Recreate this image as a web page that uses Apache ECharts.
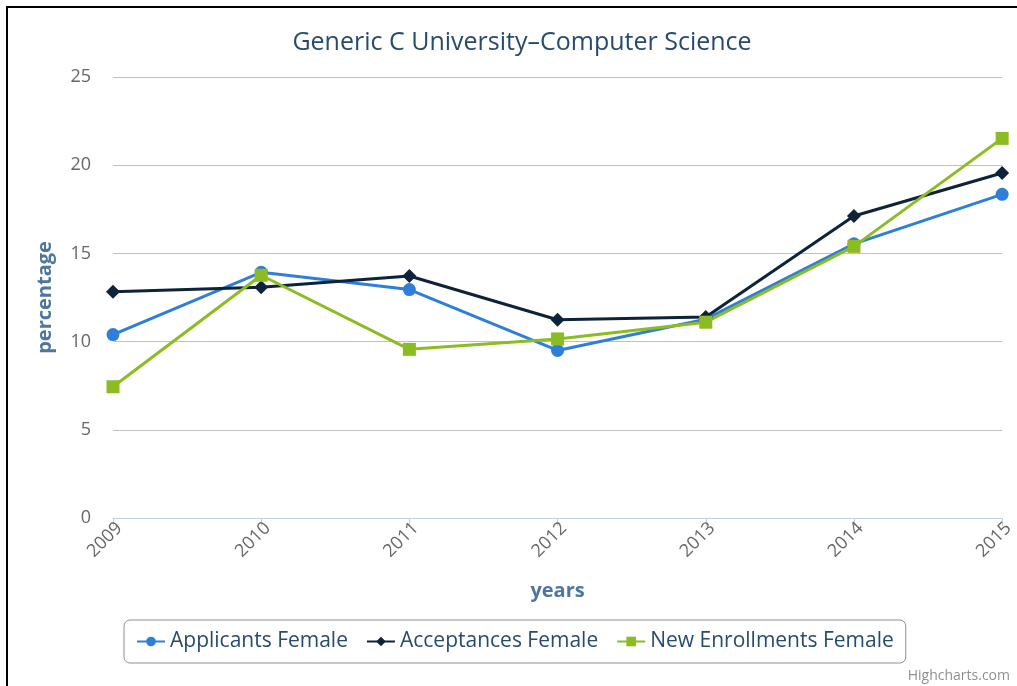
<!DOCTYPE html>
<html>
<head>
<meta charset="utf-8">
<script src="https://cdn.jsdelivr.net/npm/echarts@6/dist/echarts.min.js"></script>
<style>
html,body{margin:0;padding:0;background:#fff;}
#chart{width:1017px;height:686px;}
</style>
</head>
<body>
<div id="chart"></div>
<script>
const years = ['2009','2010','2011','2012','2013','2014','2015'];
const applicantsFemale = [10.4, 13.93, 12.95, 9.5, 11.27, 15.54, 18.35];
const acceptancesFemale = [12.83, 13.08, 13.72, 11.24, 11.4, 17.12, 19.56];
const newEnrollmentsFemale = [7.44, 13.76, 9.56, 10.15, 11.1, 15.4, 21.52];
const yTicks = [0, 5, 10, 15, 20, 25];

const FONT = '"Open Sans", "DejaVu Sans", sans-serif';
const chart = echarts.init(document.getElementById('chart'), null, {renderer: 'canvas'});
chart.setOption({
  animation: false,
  backgroundColor: '#fff',
  title: {
    text: 'Generic C University\u2013Computer Science',
    left: 517, top: 25, textAlign: 'center',
    textStyle: {fontFamily: FONT, fontSize: 25, fontWeight: 'normal', color: '#274b6d'}
  },
  grid: {left: 113, right: 14, top: 77, bottom: 168, containLabel: false},
  xAxis: {
    type: 'category', data: years, boundaryGap: false,
    name: 'years', nameLocation: 'middle', nameGap: 63,
    nameTextStyle: {fontFamily: FONT, fontSize: 20, fontWeight: 'bold', color: '#4d759e'},
    axisLine: {show: true, lineStyle: {color: '#C0D0E0', width: 1}},
    axisTick: {show: true, length: 8, lineStyle: {color: '#C0D0E0'}},
    axisLabel: {rotate: 45, margin: 1, verticalAlign: 'top', fontFamily: FONT, fontSize: 18, color: '#666'},
    splitLine: {show: false}
  },
  yAxis: {
    type: 'value', min: yTicks[0], max: yTicks[yTicks.length-1], interval: 5,
    name: 'percentage', nameLocation: 'middle', nameGap: 58,
    nameTextStyle: {fontFamily: FONT, fontSize: 20, fontWeight: 'bold', color: '#4d759e'},
    axisLine: {show: false}, axisTick: {show: false},
    axisLabel: {margin: 22, fontFamily: FONT, fontSize: 18, color: '#666'},
    splitLine: {show: true, lineStyle: {color: '#C0C0C0', width: 1}}
  },
  legend: {
    left: 124, top: 620,
    padding: [11, 12, 11, 12],
    borderColor: '#909090', borderWidth: 1, borderRadius: 6,
    itemWidth: 28, itemHeight: 12, itemGap: 18,
    textStyle: {fontFamily: FONT, fontSize: 21, color: '#274b6d'},
    data: ['Applicants Female', 'Acceptances Female', 'New Enrollments Female']
  },
  series: [
    {name: 'Applicants Female', type: 'line', data: applicantsFemale,
     symbol: 'circle', symbolSize: 13, color: '#2f7ed8',
     lineStyle: {width: 3, color: '#2f7ed8'}, itemStyle: {color: '#2f7ed8'}},
    {name: 'Acceptances Female', type: 'line', data: acceptancesFemale,
     symbol: 'diamond', symbolSize: 14, color: '#0d233a',
     lineStyle: {width: 3, color: '#0d233a'}, itemStyle: {color: '#0d233a'}},
    {name: 'New Enrollments Female', type: 'line', data: newEnrollmentsFemale,
     symbol: 'rect', symbolSize: 13, color: '#8bbc21',
     lineStyle: {width: 3, color: '#8bbc21'}, itemStyle: {color: '#8bbc21'}}
  ],
  graphic: [
    {type: 'line', shape: {x1: 6, y1: 7, x2: 1017, y2: 7}, style: {stroke: '#000', lineWidth: 2}},
    {type: 'line', shape: {x1: 7, y1: 6, x2: 7, y2: 686}, style: {stroke: '#000', lineWidth: 2}},
    {type: 'text', right: 7, bottom: 3,
     style: {text: 'Highcharts.com', fill: '#909090', font: '14px ' + FONT}}
  ]
});
</script>
</body>
</html>
